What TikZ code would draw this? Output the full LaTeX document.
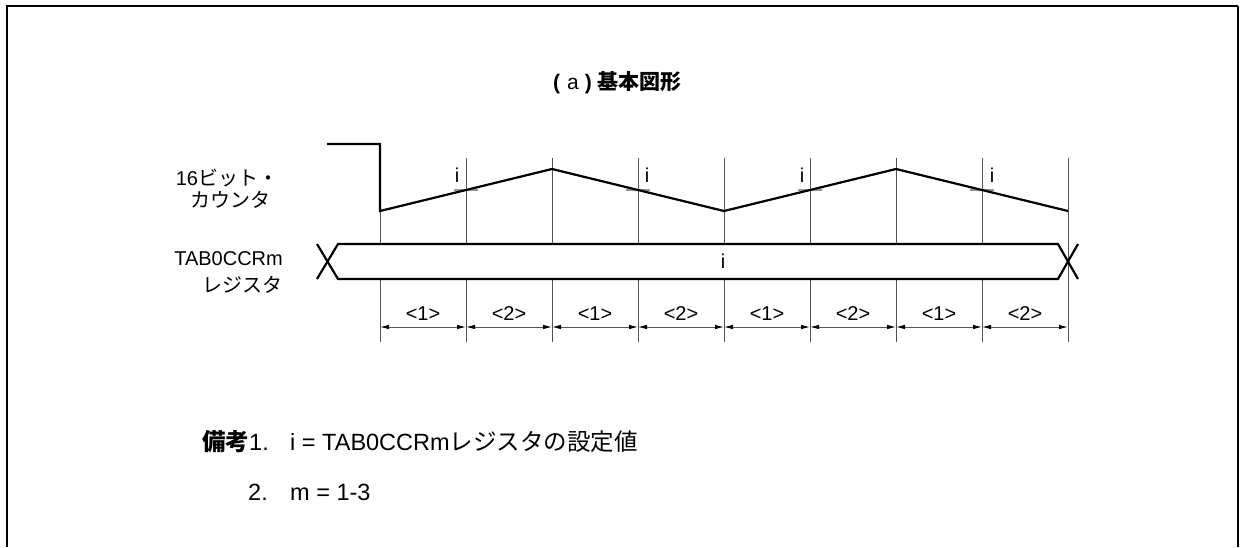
\documentclass[tikz,border=0pt]{standalone}
\usepackage{fontspec}
\setmainfont{Liberation Sans}
\newfontfamily\jp{Noto Sans CJK JP}
\usetikzlibrary{arrows.meta}
\definecolor{gridc}{RGB}{85,85,85}
\definecolor{tickc}{RGB}{150,150,150}
\begin{document}
\begin{tikzpicture}[x=1pt,y=-1pt,
  sig/.style={line width=2.2pt,black,line join=miter},
  gridline/.style={line width=1pt,gridc},
  tickline/.style={line width=1.6pt,tickc},
  dimline/.style={line width=0.9pt,gridc,{Latex[length=9pt,width=4.5pt,color=black]}-{Latex[length=9pt,width=4.5pt,color=black]}},
  lab/.style={font=\fontsize{20}{24}\selectfont,inner sep=0pt},
  note/.style={font=\fontsize{23.5}{28}\selectfont,inner sep=0pt,anchor=base west},
  frameline/.style={black}]
\useasboundingbox (0,0) rectangle (1240,547);
% frame
\draw[frameline,line width=2pt] (6.5,547) -- (6.5,5.5) -- (1238,5.5);
\draw[frameline,line width=1.2pt] (1238,5.5) -- (1238,547);
% title
\node[inner sep=0pt,anchor=base west,font=\fontsize{21}{25}\selectfont] (title) at (553,89)
  {\textbf{(}\hspace{7pt}a\hspace{6pt}\textbf{)}\hspace{6pt}{\jp\bfseries 基本図形}};
% grid coordinates
\foreach \x [count=\k] in {380,466,552,638,724,810,896,982,1068} {
  \coordinate (t\k) at (\x,158);
  \coordinate (a\k) at (\x,244);
  \coordinate (b\k) at (\x,279);
  \coordinate (d\k) at (\x,342);
  \coordinate (m\k) at (\x,327);
}
\coordinate (t1) at (380,211);
% grid lines
\foreach \k in {1,...,8} { \draw[gridline] (t\k) -- (a\k); }
\draw[gridline] (t9) -- (d9);
\foreach \k in {1,...,8} { \draw[gridline] (b\k) -- (d\k); }
% threshold ticks
\foreach \x in {466,638,810,982} { \draw[tickline] (\x-12,190) -- (\x+12,190); }
% counter waveform
\coordinate (c0) at (327,144);
\coordinate (c1) at (380,144);
\coordinate (lo1) at (380,211);
\coordinate (hi1) at (552,169);
\coordinate (lo2) at (724,211);
\coordinate (hi2) at (896,169);
\coordinate (lo3) at (1068,211);
\draw[sig] (c0) -- (c1) -- (lo1) -- (hi1) -- (lo2) -- (hi2) -- (lo3);
% i labels
\node[lab,anchor=base] (i1) at (457,182) {i};
\node[lab,anchor=base] (i2) at (647,182) {i};
\node[lab,anchor=base] (i3) at (802,182) {i};
\node[lab,anchor=base] (i4) at (992,182) {i};
% bus
\coordinate (bl1) at (317,244);
\coordinate (bl2) at (317,279);
\coordinate (bu1) at (338,244);
\coordinate (bd1) at (338,279);
\coordinate (bu2) at (1058,244);
\coordinate (bd2) at (1058,279);
\coordinate (br1) at (1078,244);
\coordinate (br2) at (1078,279);
\draw[sig] (bl1) -- (bd1) -- (bd2) -- (br1);
\draw[sig] (bl2) -- (bu1) -- (bu2) -- (br2);
\node[lab,anchor=base] (ibus) at (723,268) {i};
% left labels
\node[lab,anchor=base] (cnt1) at (227,185) {16{\jp ビット・}};
\node[lab,anchor=base] (cnt2) at (230,207) {\jp カウンタ};
\node[lab,anchor=base east] (reg1) at (283,265) {TAB0CCRm};
\node[lab,anchor=base east] (reg2) at (283,292) {\jp レジスタ};
% dimension arrows
\foreach \p/\q/\l in {1/2/1,2/3/2,3/4/1,4/5/2,5/6/1,6/7/2,7/8/1,8/9/2} {
  \draw[dimline] (m\p) -- (m\q);
}
\foreach \a/\b/\l [count=\n] in {380/466/1,466/552/2,552/638/1,638/724/2,724/810/1,810/896/2,896/982/1,982/1068/2} {
  \node[lab,anchor=base] (lbl\n) at ({(\a+\b)/2},320) {<\l>};
}
% notes
\node[note] (n1a) at (202,450) {{\jp\bfseries 備考}1.};
\node[note] (n1b) at (290,450) {i = TAB0CCRm{\jp レジスタの設定値}};
\node[note] (n2a) at (248,500) {2.};
\node[note] (n2b) at (290,500) {m = 1-3};
\end{tikzpicture}
\end{document}
